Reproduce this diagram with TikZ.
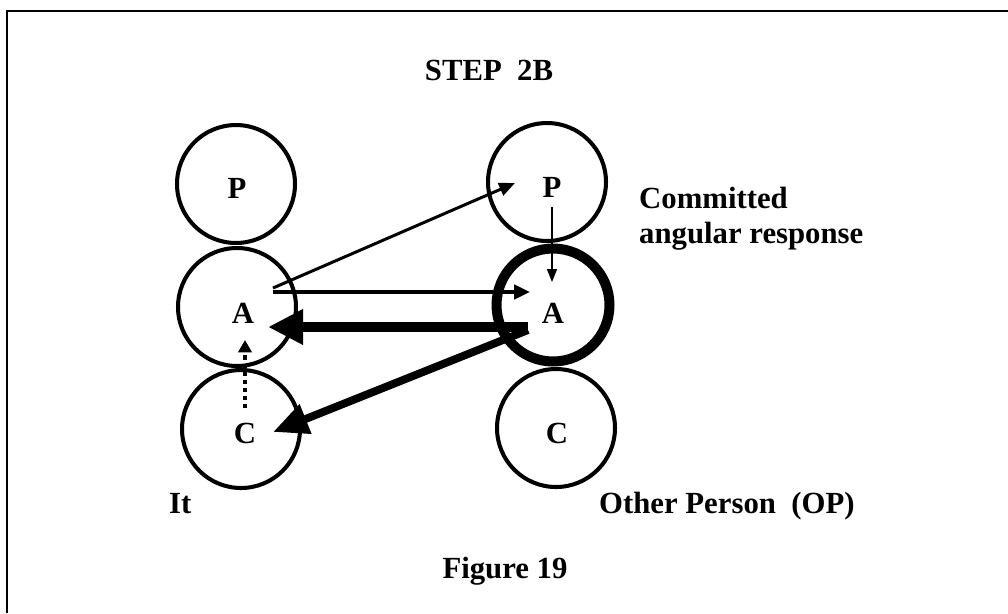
\documentclass[tikz,border=0pt]{standalone}
\usepackage{fontspec}
\setmainfont{Liberation Serif}
\usetikzlibrary{arrows.meta}

\begin{document}
\begin{tikzpicture}[x=0.02cm, y=-0.02cm,
  ring/.style={circle, draw, line width=2.3pt, minimum size=2.36cm, inner sep=0pt},
  txt/.style={font=\bfseries\fontsize{17.5}{21}\selectfont}]

\useasboundingbox (0,0) rectangle (1008,613);

% frame
\draw[line width=1.2pt] (1008,11) -- (7,11) -- (7,613);

% It
\node[ring] (Pl) at (236,184) {};
\node[ring] (Al) at (237,307) {};
\node[ring] (Cl) at (241,429) {};
\node[txt] (lPl) at (237,188) {P};
\node[txt] (lAl) at (243,313) {A};
\node[txt] (lCl) at (245,433) {C};

% Other Person
\node[ring] (Pr) at (547,182) {};
\node[ring, line width=5.7pt, minimum size=2.26cm] (Ar) at (553,305) {};
\node[ring] (Cr) at (556,428) {};
\node[txt] (lPr) at (552,187) {P};
\node[txt] (lAr) at (553,313) {A};
\node[txt] (lCr) at (557,433) {C};

\node[txt] (title) at (489,70) {STEP\ \ 2B};
\node[txt, anchor=base west] (resp1) at (633,208) {Committed};
\node[txt, anchor=base west] (resp2) at (633,243) {angular response};
\node[txt, anchor=base west] (it) at (163,513) {It};
\node[txt, anchor=base west] (op) at (593,513) {Other Person\ \ (OP)};
\node[txt, anchor=base] (fig) at (505,578) {Figure 19};

% arrows
\draw[line width=1.7pt, -{Triangle[length=9pt,width=7.5pt]}]
  ([shift={(36,-19)}]Al.center) -- ([shift={(-32,1)}]Pr.center);
\draw[line width=2.3pt, -{Triangle[length=9pt,width=8pt]}]
  ([shift={(36,-15)}]Al.center) -- ([shift={(-23,-13)}]Ar.center);
\draw[line width=5.7pt, -{Triangle[length=20pt,width=19pt]}]
  ([shift={(-25,22)}]Ar.center) -- ([shift={(31,20)}]Al.center);
\draw[line width=4.5pt, -{Triangle[length=20pt,width=17pt]}]
  ([shift={(-25,25)}]Ar.center) -- ([shift={(32,3)}]Cl.center);
\draw[line width=2.3pt, dash pattern=on 2.3pt off 2.3pt, -{Triangle[length=7pt,width=7.5pt]}]
  ([shift={(4,-21)}]Cl.center) -- ([shift={(8,33)}]Al.center);
\draw[line width=0.85pt, -{Triangle[length=7.4pt,width=5.7pt]}]
  ([shift={(5,25)}]Pr.center) -- ([shift={(-1,-23)}]Ar.center);

\end{tikzpicture}
\end{document}
